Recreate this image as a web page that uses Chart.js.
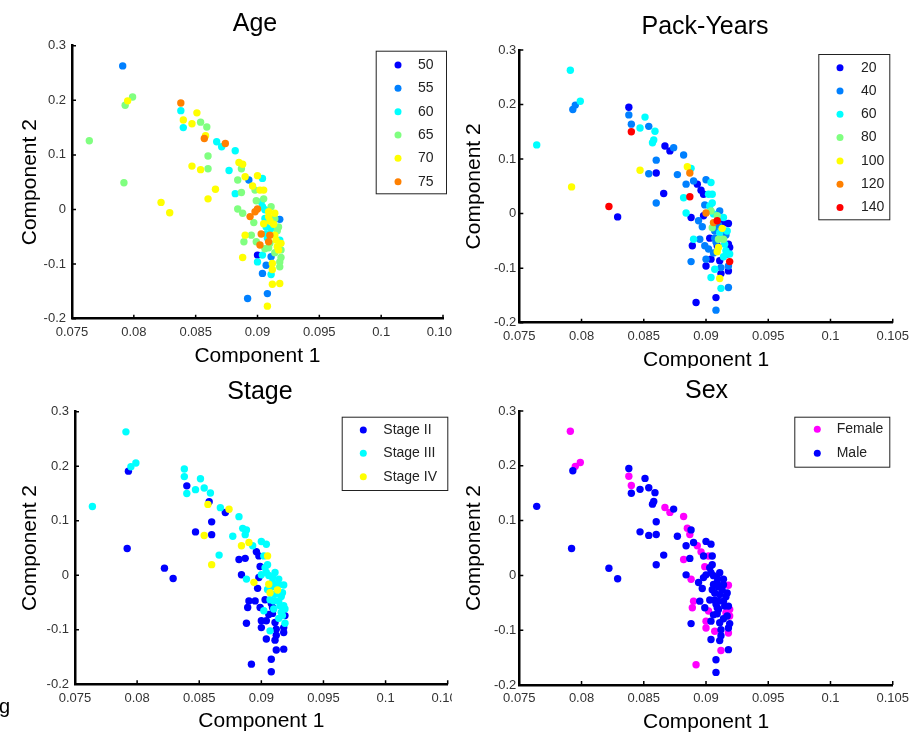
<!DOCTYPE html>
<html>
<head>
<meta charset="utf-8">
<script src="https://cdn.jsdelivr.net/npm/chart.js@4.4.1/dist/chart.umd.min.js"></script>
<style>
  html, body { margin: 0; padding: 0; background: #fff; }
  body { width: 915px; height: 735px; position: relative; overflow: hidden; }
  canvas { position: absolute; }
  #cAge { left: 0; top: 0; }
  #cPack { left: 452px; top: 0; background: #fff; }
  #cStage { left: 0; top: 363px; background: #fff; }
  #cSex { left: 452px; top: 368px; background: #fff; }
</style>
</head>
<body>
<canvas id="cAge" width="470" height="380"></canvas>
<canvas id="cPack" width="463" height="380"></canvas>
<canvas id="cStage" width="470" height="372"></canvas>
<canvas id="cSex" width="463" height="367"></canvas>
<script>
// ---- data (same samples in every panel, coloured by a different covariate) ----
const compX = [
  0.0791, 0.0793, 0.0795, 0.0799, 0.0764, 0.0792, 0.0822, 0.0829,
  0.0838, 0.0838, 0.0840, 0.0840, 0.0847, 0.0851, 0.0854, 0.0859, 0.0857, 0.0858,
  0.0867, 0.0871, 0.0874, 0.0882, 0.0860, 0.0847, 0.0854, 0.0860, 0.0877, 0.0866, 0.0860, 0.0885, 0.0887, 0.0888,
  0.0884, 0.0890, 0.0893, 0.0896, 0.0900, 0.0904, 0.0905, 0.0902, 0.0898, 0.0882, 0.0887, 0.0884,
  0.0899, 0.0903, 0.0904, 0.0900, 0.0898, 0.0911, 0.0888, 0.0894, 0.0897, 0.0906, 0.0909, 0.0914, 0.0918, 0.0913, 0.0907,
  0.0890, 0.0895, 0.0903, 0.0910, 0.0914, 0.0918, 0.0889, 0.0899, 0.0902, 0.0910, 0.0909, 0.0916, 0.0919,
  0.0888, 0.0900, 0.0904, 0.0911, 0.0919, 0.0918, 0.0900, 0.0907, 0.0918, 0.0904, 0.0911, 0.0912, 0.0918, 0.0908, 0.0892, 0.0908,
  0.0917, 0.0914, 0.0912, 0.0912, 0.0909, 0.0907, 0.0911, 0.0917, 0.0909, 0.0915, 0.0905, 0.0906, 0.0910, 0.0914, 0.0905, 0.0916, 0.0908, 0.0919, 0.0906
];
const compY = [
  0.263, 0.191, 0.199, 0.206, 0.126, 0.049, 0.013, -0.006,
  0.195, 0.181, 0.164, 0.150, 0.157, 0.177, 0.160, 0.151, 0.130, 0.135,
  0.124, 0.115, 0.121, 0.1075, 0.098, 0.0795, 0.073, 0.0745, 0.0715, 0.037, 0.0195, 0.086, 0.0745, 0.083,
  0.054, 0.060, 0.054, 0.043, 0.062, 0.057, 0.0355, 0.0355, 0.0355, 0.029, 0.031, 0.001,
  0.016, 0.014, 0.005, 0.001, -0.004, 0.005, -0.007, -0.013, -0.024, -0.0165, -0.013, -0.007, -0.018, -0.027, -0.032,
  -0.047, -0.047, -0.045, -0.047, -0.047, -0.056, -0.059, -0.059, -0.065, -0.062, -0.070, -0.068, -0.062,
  -0.088, -0.0835, -0.0835, -0.0865, -0.088, -0.096, -0.096, -0.102, -0.105, -0.117, -0.119, -0.137, -0.1355, -0.154, -0.163, -0.177,
  -0.074, -0.079, -0.099, -0.110, -0.059, -0.045, -0.035, -0.032, -0.004, -0.056, 0.0195, -0.0005, -0.021, -0.017, -0.026, -0.039, -0.052, -0.074, -0.072
];

// group index per sample, into the label lists below
const ageGroup = [
  1,3,4,3,3,3,4,4, 5,2,4,2,4,4,3,3,5,4, 2,2,5,2,3,4,4,3,2,4,4,4,3,4,
  3,4,1,4,4,2,4,4,3,2,3,3,
  3,2,2,5,5,3,3,5,3,2,4,4,1,4,2,
  4,3,5,5,4,2,3,3,5,3,3,4,4,
  4,0,2,1,3,3,2,1,3,1,2,4,4,1,1,4,
  4,3,4,4,5,2,2,3,4,4,3,2,4,3,4,3,2,3,3
];
const packGroup = [
  2,1,1,2,2,4,6,0, 0,1,1,6,2,2,1,2,2,2, 0,0,1,1,1,4,1,0,1,0,1,4,5,2,
  1,1,0,0,1,2,2,2,0,2,6,2,
  1,2,3,5,0,1,0,1,1,5,6,2,0,4,1,
  2,1,0,3,3,0,0,1,1,4,4,2,0,
  1,1,0,0,6,1,0,2,0,2,4,2,1,0,0,1,
  1,2,1,0,0,1,2,2,3,2,2,2,1,0,3,1,1,2,1
];
const stageGroup = [
  1,0,1,1,1,0,0,0, 1,1,0,1,1,1,1,1,2,0, 1,0,2,1,0,0,2,0,1,1,2,1,1,1,
  2,2,1,0,1,1,2,1,0,0,0,0,
  0,1,1,1,0,1,1,2,0,2,1,1,1,2,2,
  0,0,0,1,1,1,0,0,1,1,0,1,1,
  0,0,0,0,1,0,0,1,0,0,0,0,0,0,0,0,
  1,1,0,0,0,1,1,1,1,1,1,1,1,1,1,1,0,0,0
];
const sexGroup = [
  0,1,0,0,1,1,1,1, 1,0,0,1,1,1,1,1,1,1, 0,0,1,0,1,1,1,1,1,1,1,0,0,1,
  1,1,0,0,1,1,1,0,1,0,1,1,
  0,1,1,1,1,1,0,1,1,1,1,1,0,1,1,
  0,1,1,1,1,1,0,1,0,1,1,0,0,
  1,0,1,1,1,1,0,0,0,1,1,0,1,1,0,1,
  1,1,1,1,1,1,1,1,1,1,1,1,1,1,1,1,1,0,1
];

const ageLabels = ['50', '55', '60', '65', '70', '75'];
const packLabels = ['20', '40', '60', '80', '100', '120', '140'];
const stageLabels = ['Stage II', 'Stage III', 'Stage IV'];
const sexLabels = ['Female', 'Male'];

const xTickValues = [0.075, 0.08, 0.085, 0.09, 0.095, 0.1, 0.105];
const xTickLabels = ['0.075', '0.08', '0.085', '0.09', '0.095', '0.1', '0.105'];
const yTickValues = [-0.2, -0.1, 0, 0.1, 0.2, 0.3];
const yTickLabels = ['-0.2', '-0.1', '0', '0.1', '0.2', '0.3'];

// ---- styles ----
const jet = ['#0000ff', '#0080ff', '#00ffff', '#80ff80', '#ffff00', '#ff8000', '#ff0000'];
const stageColors = ['#0000ff', '#00ffff', '#ffff00'];
const sexColors = ['#ff00ff', '#0000ff'];
const FONT = '"Liberation Sans", Arial, Helvetica, sans-serif';
Chart.defaults.font.family = FONT;

function groupSets(groups, labels, colors) {
  return labels.map((lab, k) => ({
    label: lab,
    data: compX.map((x, i) => ({ x, y: compY[i], g: groups[i] })).filter(p => p.g === k),
    backgroundColor: colors[k],
    pointBackgroundColor: colors[k],
    pointRadius: 3.7,
    pointHoverRadius: 3.7,
    pointBorderWidth: 0,
    order: labels.length - k,   // later groups drawn on top
  }));
}

// inward ticks, panel title and boxed legend
const panelDecor = {
  id: 'panelDecor',
  afterDraw(chart, args, o) {
    const { ctx, chartArea: a, scales: { x, y } } = chart;
    ctx.save();
    ctx.strokeStyle = '#000';
    ctx.lineWidth = 1.5;
    ctx.beginPath();
    xTickValues.forEach(v => {
      const px = x.getPixelForValue(v);
      ctx.moveTo(px, a.bottom); ctx.lineTo(px, a.bottom - 4);
    });
    yTickValues.forEach(v => {
      const py = y.getPixelForValue(v);
      ctx.moveTo(a.left, py); ctx.lineTo(a.left + 4, py);
    });
    ctx.stroke();

    ctx.fillStyle = '#000';
    ctx.font = '25px ' + FONT;
    ctx.textAlign = 'center';
    ctx.textBaseline = 'alphabetic';
    ctx.fillText(o.title, o.titleX, o.titleY);
    if (o.extra) {
      ctx.font = '20px ' + FONT;
      ctx.textAlign = 'left';
      ctx.fillText(o.extra.text, o.extra.x, o.extra.y);
    }

    const L = o.legend;
    ctx.fillStyle = '#fff';
    ctx.fillRect(L.x, L.y, L.w, L.h);
    ctx.strokeStyle = '#222';
    ctx.lineWidth = 1;
    ctx.strokeRect(L.x + 0.5, L.y + 0.5, L.w, L.h);
    ctx.font = '14px ' + FONT;
    ctx.textAlign = 'left';
    ctx.textBaseline = 'middle';
    chart.data.datasets.forEach((ds, i) => {
      const cy = L.row0 + i * L.step;
      ctx.fillStyle = ds.backgroundColor;
      ctx.beginPath(); ctx.arc(L.markX, cy, 3.5, 0, Math.PI * 2); ctx.fill();
      ctx.fillStyle = '#222';
      ctx.fillText(ds.label, L.textX, cy);
    });
    ctx.restore();
  }
};

function makePanel(id, datasets, p) {
  const tickFont = { size: 13 };
  return new Chart(document.getElementById(id), {
    type: 'scatter',
    data: { datasets },
    options: {
      animation: false,
      responsive: false,
      devicePixelRatio: 1,
      events: [],
      layout: { padding: { top: p.top, right: p.right, left: 0, bottom: 0 } },
      plugins: {
        legend: { display: false },
        tooltip: { enabled: false },
        panelDecor: { title: p.title, titleX: p.titleX, titleY: p.titleY, legend: p.legend, extra: p.extra },
      },
      scales: {
        x: {
          type: 'linear', min: 0.075, max: 0.105,
          afterBuildTicks: s => { s.ticks = xTickValues.map(v => ({ value: v })); },
          afterFit: s => { s.height = p.xh; },
          ticks: { callback: (v, i) => xTickLabels[i], font: tickFont, color: '#333', padding: 6, maxRotation: 0, autoSkip: false },
          grid: { display: false, drawTicks: false },
          border: { display: true, color: '#000', width: 2.5 },
          title: { display: true, text: 'Component 1', font: { size: 21 }, color: '#000', padding: { top: 0, bottom: p.xpb } },
        },
        y: {
          type: 'linear', min: -0.2, max: 0.3,
          afterBuildTicks: s => { s.ticks = yTickValues.map(v => ({ value: v })); },
          afterFit: s => { s.width = p.yw; },
          ticks: { callback: (v, i) => yTickLabels[i], font: tickFont, color: '#333', padding: p.ypad, autoSkip: false },
          grid: { display: false, drawTicks: false },
          border: { display: true, color: '#000', width: 2.5 },
          title: { display: true, text: 'Component 2', font: { size: 21 }, color: '#000', padding: { top: p.ypt, bottom: 0 } },
        },
      },
    },
    plugins: [panelDecor],
  });
}

makePanel('cAge', groupSets(ageGroup, ageLabels, jet.slice(0, 6)), {
  top: 45.7, right: 27, yw: 72, xh: 61.3, xpb: 11.4, ypt: 18, ypad: 6,
  title: 'Age', titleX: 255, titleY: 30.5,
  legend: { x: 375.7, y: 50.7, w: 70.3, h: 142.6, markX: 398, textX: 418, row0: 65, step: 23.33 },
});
makePanel('cPack', groupSets(packGroup, packLabels, jet), {
  top: 50, right: 21.7, yw: 67.3, xh: 57.3, xpb: 7, ypt: 10, ypad: 3,
  title: 'Pack-Years', titleX: 253, titleY: 34,
  legend: { x: 366.3, y: 54, w: 71, h: 165.3, markX: 388, textX: 409, row0: 67.7, step: 23.3 },
});
makePanel('cStage', groupSets(stageGroup, stageLabels, stageColors), {
  top: 48.7, right: 22.3, yw: 75, xh: 50.7, xpb: 0.7, ypt: 18, ypad: 6,
  title: 'Stage', titleX: 260, titleY: 35.5,
  extra: { text: 'g', x: -1, y: 350 },
  legend: { x: 341.7, y: 53.7, w: 105.6, h: 73.3, markX: 363.3, textX: 383.3, row0: 67, step: 23.33 },
});
makePanel('cSex', groupSets(sexGroup, sexLabels, sexColors), {
  top: 43, right: 21.7, yw: 67.3, xh: 50, xpb: 0, ypt: 10, ypad: 3,
  title: 'Sex', titleX: 254.5, titleY: 29.5,
  legend: { x: 342.3, y: 48.7, w: 95, h: 50, markX: 365.3, textX: 384.7, row0: 61.3, step: 24 },
});
</script>
</body>
</html>
